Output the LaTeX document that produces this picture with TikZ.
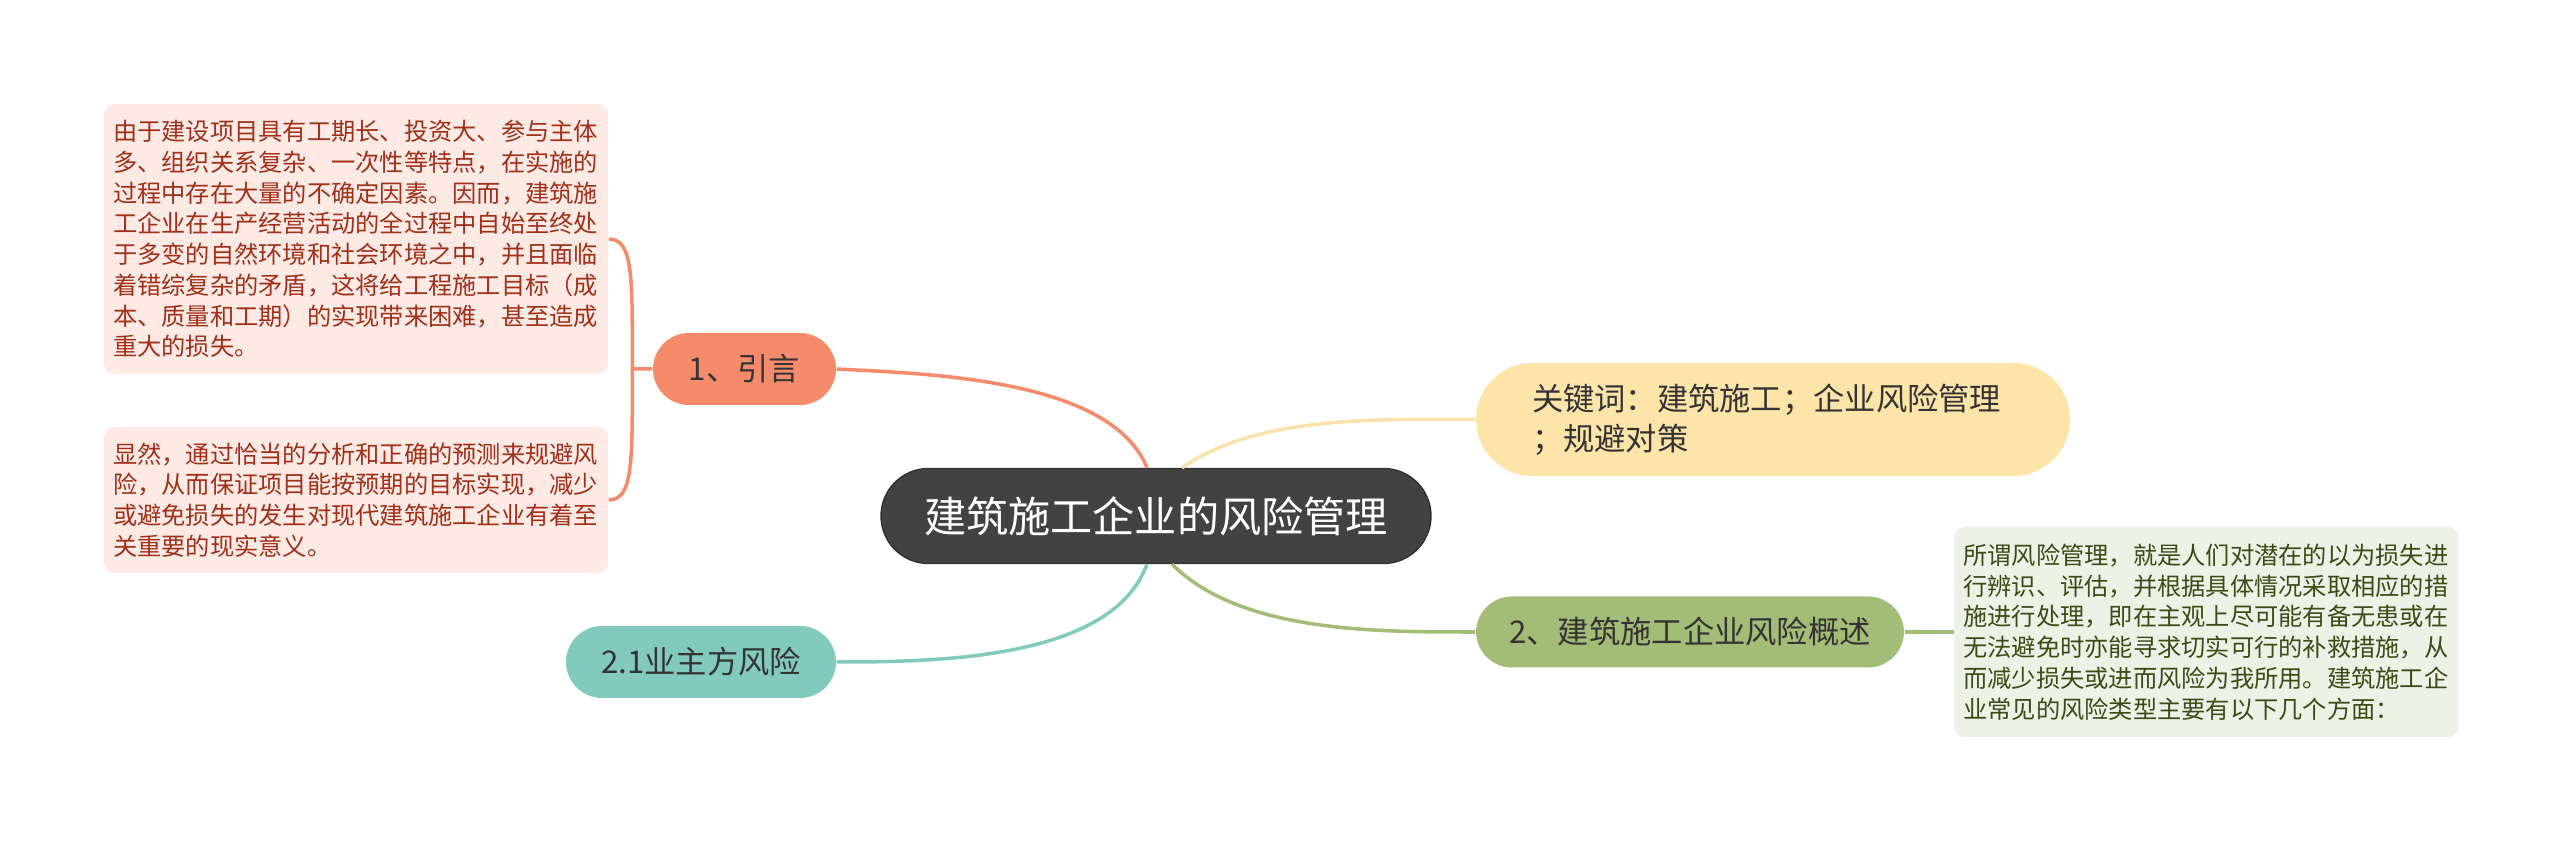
\documentclass[tikz,border=0pt]{standalone}
\usepackage{fontspec}
\setmainfont{Noto Sans CJK SC}
\usepackage{tikz}
\usetikzlibrary{positioning}

\definecolor{rootgray}{HTML}{424242}
\definecolor{introfill}{HTML}{F58B6B}
\definecolor{notered}{HTML}{FDEAE5}
\definecolor{redtext}{HTML}{A0301A}
\definecolor{keyfill}{HTML}{FDE4A9}
\definecolor{keyline}{HTML}{FBE2AC}
\definecolor{overfill}{HTML}{A3BC76}
\definecolor{notegreen}{HTML}{EEF1E5}
\definecolor{greentext}{HTML}{3C4A17}
\definecolor{ownerfill}{HTML}{82CABD}

\begin{document}
\begin{tikzpicture}[
    node distance=0.5cm,
    root/.style={rectangle, draw=rootgray!75!black, fill=rootgray, text=white, rounded corners=0.475cm, minimum width=5.5cm, minimum height=0.95cm, font=\fontsize{12}{14}\selectfont},
    topic/.style={rectangle, fill=#1, text=black!80, rounded corners=0.36cm, minimum height=0.72cm, font=\fontsize{8.9}{11.4}\selectfont},
    note/.style={rectangle, fill=#1, rounded corners=0.1cm, text width=4.86cm, inner xsep=0.09cm, align=left, font=\fontsize{6.9}{8.76}\selectfont},
    link/.style={draw=#1, line width=1pt}
]
\useasboundingbox (0,0) rectangle (25.6,-8.41);

% Root
\node[root] (root) at (11.56,-5.16) {建筑施工企业的风险管理};

% Left branches
\node[topic=introfill, minimum width=1.83cm] (intro) at (7.445,-3.69) {1、引言};
\node[topic=ownerfill, minimum width=2.70cm] (owner) at (7.01,-6.62) {2.1业主方风险};

% Notes of the introduction
\node[note=notered, text=redtext, minimum height=2.70cm] (introa) at (3.56,-2.39) {由于建设项目具有工期长、投资大、参与主体\\多、组织关系复杂、一次性等特点，在实施的\\过程中存在大量的不确定因素。因而，建筑施\\工企业在生产经营活动的全过程中自始至终处\\于多变的自然环境和社会环境之中，并且面临\\着错综复杂的矛盾，这将给工程施工目标（成\\本、质量和工期）的实现带来困难，甚至造成\\重大的损失。};
\node[note=notered, text=redtext, minimum height=1.46cm] (introb) at (3.56,-5.00) {显然，通过恰当的分析和正确的预测来规避风\\险，从而保证项目能按预期的目标实现，减少\\或避免损失的发生对现代建筑施工企业有着至\\关重要的现实意义。};

% Right branches
\node[topic=keyfill, rounded corners=0.565cm, minimum height=1.13cm, text width=4.82cm, inner xsep=0.56cm, align=left] (keys) at (17.73,-4.195) {关键词：建筑施工；企业风险管理\\；规避对策};
\node[topic=overfill, minimum width=4.28cm, minimum height=0.71cm] (overview) at (16.9,-6.32) {2、建筑施工企业风险概述};
\node[note=notegreen, text=greentext, minimum height=2.10cm, right=0.49cm of overview] (risknote) {所谓风险管理，就是人们对潜在的以为损失进\\行辨识、评估，并根据具体情况采取相应的措\\施进行处理，即在主观上尽可能有备无患或在\\无法避免时亦能寻求切实可行的补救措施，从\\而减少损失或进而风险为我所用。建筑施工企\\业常见的风险类型主要有以下几个方面：};

% Links from the root
\draw[link=introfill] (intro.east) to[out=-3, in=112, looseness=0.75] ([xshift=-0.09cm]root.north);
\draw[link=keyline] ([xshift=0.26cm]root.north) to[out=35, in=180, looseness=0.8] (keys.west);
\draw[link=ownerfill] ([xshift=-0.09cm]root.south) to[out=-110, in=0, looseness=0.8] (owner.east);
\draw[link=overfill] ([xshift=0.16cm]root.south) to[out=-45, in=180, looseness=0.8] (overview.west);

% Notes
\draw[link=overfill] (overview) -- (risknote);
\draw[link=introfill] (intro.west) -- ++(-0.2,0) coordinate (fork) .. controls +(0,0.9) and +(0.25,0) .. (introa.east);
\draw[link=introfill] (fork) .. controls +(0,-0.9) and +(0.25,0) .. (introb.east);

\end{tikzpicture}
\end{document}
